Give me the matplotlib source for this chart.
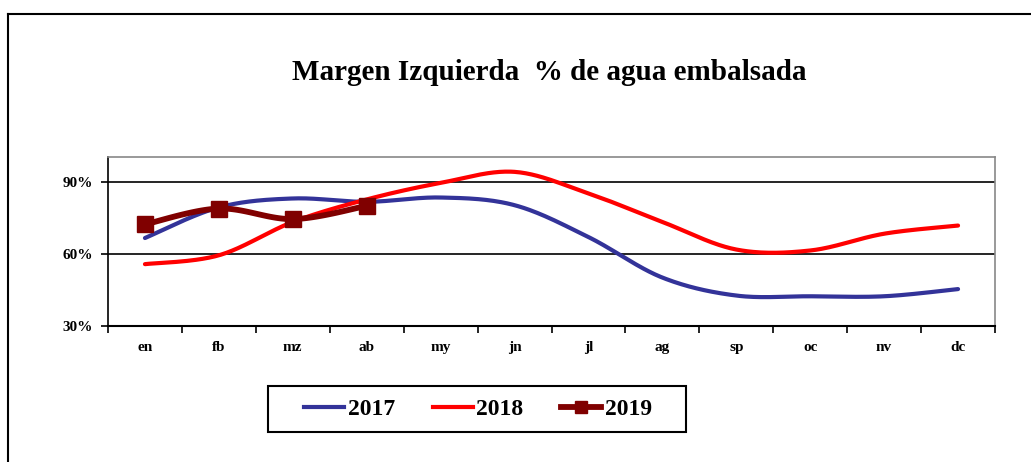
import numpy as np
import matplotlib
matplotlib.use('Agg')
import matplotlib.pyplot as plt
from matplotlib.patches import Rectangle
from matplotlib.lines import Line2D

# Data (% of stored water)
months = ['en', 'fb', 'mz', 'ab', 'my', 'jn', 'jl', 'ag', 'sp', 'oc', 'nv', 'dc']
agua_2017 = [66.7, 79.5, 83.2, 81.8, 83.6, 80.4, 67.1, 50.2, 42.7, 42.4, 42.4, 45.4]
agua_2018 = [55.8, 59.5, 73.4, 82.8, 89.7, 94.3, 85.3, 73.4, 61.9, 61.5, 68.5, 71.9]
agua_2019 = [72.4, 79.0, 74.6, 80.1]
y_ticks = [30, 60, 90]

plt.rcParams['font.family'] = ['Liberation Serif', 'DejaVu Serif']
plt.rcParams['font.weight'] = 'bold'


# Excel-like smoothed line: Catmull-Rom bezier through the points
def smooth(xs, ys, n=40):
    xs = np.asarray(xs, float)
    ys = np.asarray(ys, float)
    px = np.concatenate([[xs[0]], xs, [xs[-1]]])
    py = np.concatenate([[ys[0]], ys, [ys[-1]]])
    out_x, out_y = [], []
    t = np.linspace(0, 1, n)
    for i in range(1, len(px) - 2):
        p0 = np.array([px[i], py[i]])
        p3 = np.array([px[i + 1], py[i + 1]])
        c1 = p0 + (np.array([px[i + 1], py[i + 1]]) - np.array([px[i - 1], py[i - 1]])) / 6
        c2 = p3 - (np.array([px[i + 2], py[i + 2]]) - np.array([px[i], py[i]])) / 6
        b = ((1 - t) ** 3)[:, None] * p0 + (3 * (1 - t) ** 2 * t)[:, None] * c1 \
            + (3 * (1 - t) * t ** 2)[:, None] * c2 + (t ** 3)[:, None] * p3
        out_x.extend(b[:, 0])
        out_y.extend(b[:, 1])
    return out_x, out_y


fig = plt.figure(figsize=(10.31, 4.62), dpi=100)
ax = fig.add_axes([108 / 1031, 1 - 326 / 462, (995 - 108) / 1031, (326 - 157) / 462])

x = np.arange(len(months))
c17, c18, c19 = '#333399', '#ff0000', '#800000'

sx, sy = smooth(x, agua_2017)
ax.plot(sx, sy, color=c17, lw=3, solid_capstyle='round', zorder=3)
sx, sy = smooth(x, agua_2018)
ax.plot(sx, sy, color=c18, lw=3, solid_capstyle='round', zorder=3)
x19 = np.arange(len(agua_2019))
sx, sy = smooth(x19, agua_2019)
ax.plot(sx, sy, color=c19, lw=4.2, solid_capstyle='round', zorder=4)
ax.plot(x19, agua_2019, ls='none', marker='s', ms=11, color=c19, zorder=5)

ax.set_xlim(-0.5, len(months) - 0.5)
ax.set_ylim(30, 100.5)
ax.set_yticks(y_ticks)
ax.set_yticklabels([f'{v}%' for v in y_ticks], fontsize=11, fontweight='bold')
ax.set_xticks(x)
ax.set_xticklabels(months, fontsize=11, fontweight='bold')
ax.tick_params(axis='x', length=0, pad=11)
ax.set_xticks(np.arange(-0.5, len(months)), minor=True)
ax.tick_params(axis='x', which='minor', length=5, width=1.2, direction='out')
ax.tick_params(axis='y', length=5, width=1.2, direction='out', pad=6)

for v in y_ticks[1:]:
    ax.axhline(v, color='black', lw=1.2, zorder=1)

ax.spines['left'].set_color('black')
ax.spines['bottom'].set_color('black')
ax.spines['left'].set_linewidth(1.2)
ax.spines['bottom'].set_linewidth(1.5)
ax.spines['top'].set_color('#888888')
ax.spines['right'].set_color('#888888')
ax.spines['top'].set_linewidth(1.2)
ax.spines['right'].set_linewidth(1.2)

fig.text(549 / 1031, 1 - 72 / 462, 'Margen Izquierda  % de agua embalsada',
         ha='center', va='center', fontsize=21, fontweight='bold')

# outer chart frame (only left and top edges are visible)
fig.add_artist(Line2D([8 / 1031, 8 / 1031], [0, 1 - 14 / 462], transform=fig.transFigure,
                      color='black', lw=1.5))
fig.add_artist(Line2D([8 / 1031, 1], [1 - 14 / 462, 1 - 14 / 462], transform=fig.transFigure,
                      color='black', lw=1.5))

# legend box
fig.add_artist(Rectangle((268 / 1031, 1 - 432 / 462), (686 - 268) / 1031, (432 - 386) / 462,
                         transform=fig.transFigure, fill=False, ec='black', lw=1.5))
handles = [
    Line2D([], [], color=c17, lw=3),
    Line2D([], [], color=c18, lw=3),
    Line2D([], [], color=c19, lw=4.2, marker='s', ms=9),
]
fig.legend(handles, ['2017', '2018', '2019'], loc='center', ncol=3,
           bbox_to_anchor=(478 / 1031, 1 - 409 / 462), frameon=False,
           prop={'size': 17, 'weight': 'bold'}, handlelength=1.7,
           handletextpad=0.15, columnspacing=1.6, borderpad=0)

fig.savefig('out.png', dpi=100)
